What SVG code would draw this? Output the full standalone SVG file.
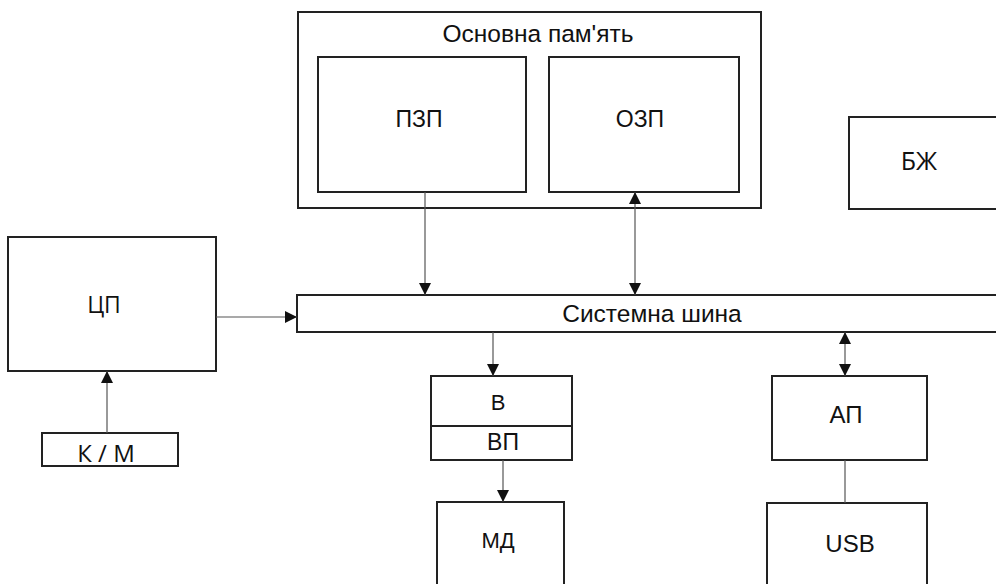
<svg xmlns="http://www.w3.org/2000/svg" width="996" height="584" viewBox="0 0 996 584">
<defs>
<style>
.box{fill:#fff;stroke:#222;stroke-width:2}
.t{font-family:"Liberation Sans",Arial,sans-serif;font-size:22px;fill:#111;text-anchor:middle}
.h{font-family:"Open Sans","Noto Sans",sans-serif;font-size:23px;fill:#111;text-anchor:middle}
.c{stroke:#555;stroke-width:1.2;fill:none}
</style>
<marker id="ah" viewBox="0 0 10 10" refX="10" refY="5" markerWidth="12" markerHeight="12" markerUnits="userSpaceOnUse" orient="auto-start-reverse">
<path d="M0,0 L10,5 L0,10 Z" fill="#111"/>
</marker>
</defs>
<rect width="996" height="584" fill="#fff"/>
<g id="mem">
<rect class="box" x="298" y="12" width="463" height="196"/>
<text class="t" x="538" y="42" style="font-size:24.5px">Основна пам'ять</text>
</g>
<g id="pzp">
<rect class="box" x="318" y="57" width="208" height="135"/>
<text class="t" x="419" y="127" style="font-size:23px">ПЗП</text>
</g>
<g id="ozp">
<rect class="box" x="549" y="57" width="190" height="135"/>
<text class="t" x="640" y="127" style="font-size:23px">ОЗП</text>
</g>
<g id="bzh">
<rect class="box" x="849" y="117" width="160" height="92"/>
<text class="h" x="919" y="170" style="font-size:25px">БЖ</text>
</g>
<g id="bus">
<rect class="box" x="297" y="295" width="712" height="37"/>
<text class="t" x="652" y="322" style="font-size:24.5px">Системна шина</text>
</g>
<g id="cpu">
<rect class="box" x="8" y="237" width="208" height="134"/>
<text class="h" x="104" y="313">ЦП</text>
</g>
<g id="km">
<rect class="box" x="42" y="433" width="136" height="33"/>
<text class="h" x="106" y="462" style="font-size:24px">К / М</text>
</g>
<g id="v">
<rect class="box" x="431" y="376" width="141" height="50"/>
<text class="t" x="498" y="410">В</text>
</g>
<g id="vp">
<rect class="box" x="431" y="426" width="141" height="34"/>
<text class="t" x="503" y="450" style="font-size:23px">ВП</text>
</g>
<g id="md">
<rect class="box" x="437" y="502" width="127" height="90"/>
<text class="t" x="498" y="548">МД</text>
</g>
<g id="ap">
<rect class="box" x="772" y="376" width="155" height="84"/>
<text class="t" x="846" y="423" style="font-size:24px">АП</text>
</g>
<g id="usb">
<rect class="box" x="767" y="503" width="160" height="90"/>
<text class="t" x="850" y="552" style="font-size:24px">USB</text>
</g>
<g id="connectors">
<line class="c" x1="425" y1="192" x2="425" y2="295" marker-end="url(#ah)"/>
<line class="c" x1="635" y1="192" x2="635" y2="295" marker-start="url(#ah)" marker-end="url(#ah)"/>
<line class="c" x1="216" y1="317" x2="297" y2="317" marker-end="url(#ah)"/>
<line class="c" x1="107" y1="433" x2="107" y2="371" marker-end="url(#ah)"/>
<line class="c" x1="493" y1="332" x2="493" y2="376" marker-end="url(#ah)"/>
<line class="c" x1="503" y1="460" x2="503" y2="502" marker-end="url(#ah)"/>
<line class="c" x1="845" y1="332" x2="845" y2="376" marker-start="url(#ah)" marker-end="url(#ah)"/>
<line class="c" x1="845" y1="460" x2="845" y2="503"/>
</g>
</svg>
